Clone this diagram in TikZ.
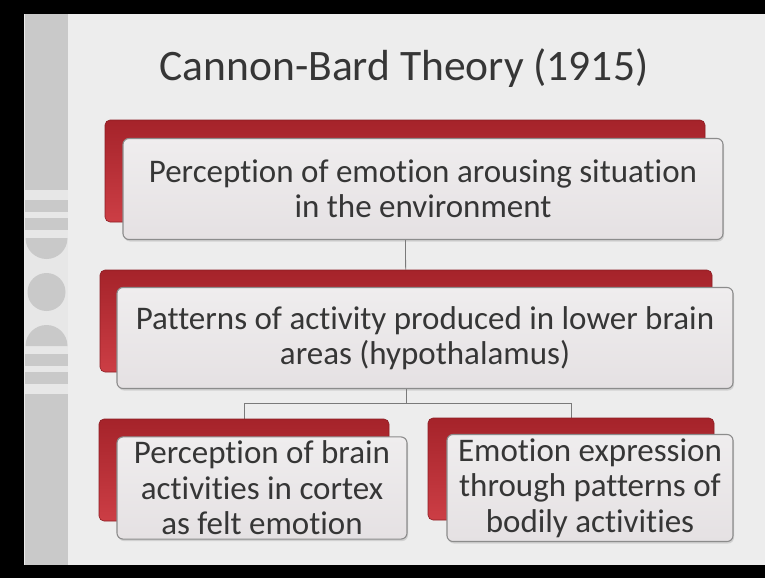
\documentclass[tikz,border=0pt]{standalone}
\usepackage{fontspec}
\setmainfont{Carlito}[Ligatures=NoCommon]
\usetikzlibrary{backgrounds,shadows}

\definecolor{slidebg}{HTML}{EDEDED}
\definecolor{stripgray}{HTML}{C9C9C9}
\definecolor{stripgap}{HTML}{E7E7E7}
\definecolor{redtop}{HTML}{A5232A}
\definecolor{redbot}{HTML}{CC3E45}
\definecolor{boxtop}{HTML}{EFEDEE}
\definecolor{boxbot}{HTML}{E5E1E3}
\definecolor{boxline}{HTML}{8C8C8C}
\definecolor{ink}{HTML}{363636}
\definecolor{linkgray}{HTML}{7A7A7A}

\begin{document}
\begin{tikzpicture}[x=1pt,y=-1pt]
			\tikzstyle{Title}	= [font=\fontsize{43.5}{50}\selectfont, text=ink, inner sep=0pt]
			\tikzstyle{Back}	= [rectangle, rounded corners=5pt, minimum height=102pt, inner sep=0pt, top color=redtop, bottom color=redbot, draw=redtop!85!black, line width=0.6pt]
			\tikzstyle{Front}	= [rectangle, rounded corners=6pt, minimum height=101pt, inner sep=4pt, top color=boxtop, bottom color=boxbot, draw=boxline, line width=1.1pt, text=ink, align=center, font=\fontsize{33}{35.5}\selectfont, drop shadow={shadow xshift=1pt, shadow yshift=-2pt, opacity=0.25}]
			\tikzstyle{Link}	= [linkgray, line width=0.8pt]
			\tikzstyle{Strip}	= [fill=stripgray]
			\tikzstyle{Gap}		= [fill=stripgap]

			\useasboundingbox (0,0) rectangle (765,578);

			\node (title) at (404,80) [Title, anchor=base] {Cannon-Bard Theory (1915)};

			\node (b1back) at (405,171) [Back, minimum width=600pt] {};
			\node (b1) at (423,189) [Front, minimum width=600pt] {Perception of emotion arousing situation\\in the environment};

			\node (b2back) at (406,321) [Back, minimum width=612pt] {};
			\node (b2) at (425,338) [Front, minimum width=616pt] {Patterns of activity produced in lower brain\\areas (hypothalamus)};

			\node (b3back) at (244,470) [Back, minimum width=290pt] {};
			\node (b3) at (262,488) [Front, minimum width=290pt] {Perception of brain\\activities in cortex\\as felt emotion};

			\node (b4back) at (571,469) [Back, minimum width=286pt] {};
			\node (b4) at (590,488) [Front, minimum width=286pt] {Emotion expression\\through patterns of\\bodily activities};

			\begin{scope}[on background layer]
				% screen frame and slide
				\fill [black] (0,0) rectangle (765,578);
				\fill [slidebg] (24,14) rectangle (765,565);
				% side strip
				\fill [Strip] (25,14) rectangle (68,565);
				\foreach \ya/\yb in {190/200, 212/218, 230/238, 346/354, 366/372, 384/394}
					\fill [Gap] (25,\ya) rectangle (68,\yb);
				\fill [Gap] (25,238) rectangle (68,346);
				\fill [Strip] (25.5,238) arc[start angle=180, end angle=0, radius=21] -- cycle;
				\fill [Strip] (46.5,292) circle[radius=19];
				\fill [Strip] (25.5,346) arc[start angle=180, end angle=360, radius=21] -- cycle;

				% connectors
				\coordinate (fork) at (406,403);
				\draw [-] (b1back) to (b2back) [Link];
				\draw [-] (b2back) to (fork) [Link];
				\draw [-] (fork) -| (b3back) [Link];
				\draw [-] (fork) -| (b4back) [Link];
			\end{scope}
		\end{tikzpicture}
\end{document}
